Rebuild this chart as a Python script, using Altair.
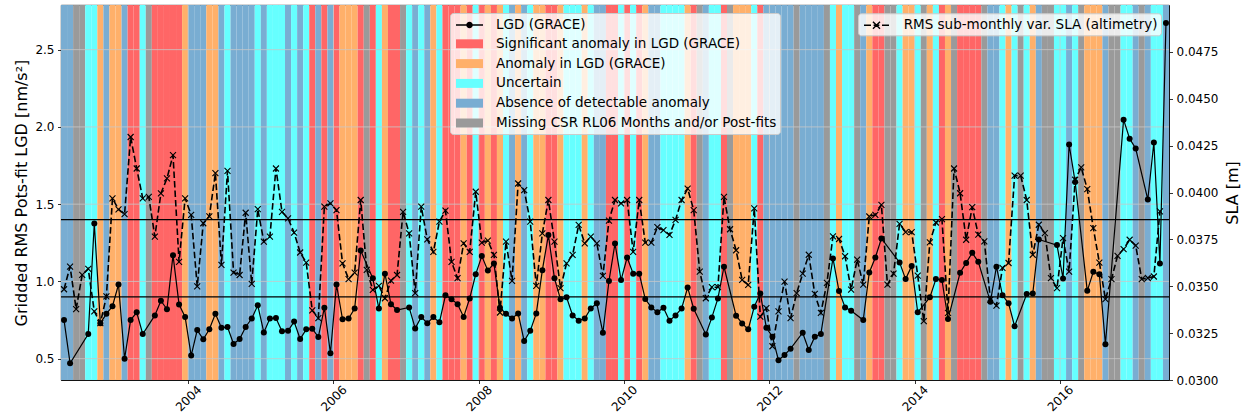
import altair as alt
import pandas as pd

# ---------------- data ----------------
START_YEAR = 2002
START_MONTH = 4  # first month: April 2002, one band per month

# S significant, A anomaly, U uncertain, N absence, M missing
MONTH_CODES = ("NNMMUUANAA" "NSSUMSSSSS" "ANNNAANUNN" "NNUNUUUNUN" "USNSNSAAAS"
               "MSUASSMUNU" "NAUSSSASUS" "ASAUNANUAA" "SSAUUUAUNN" "SSUSUSANNU"
               "UUUASMNUUS" "MAAAUSNNNN" "NMNNNNMUAU" "UMNASSMMUA" "AUMAUSAMSS"
               "SSMNNUAUMU" "ANMMUUNUMA" "AANMMUUNMN" "UUN")

LGD = [0.75, 0.47, None, None, 0.66, 1.375, 0.73, 0.79, 0.84, 0.98,
       0.50, 0.75, 0.80, 0.66, None, 0.78, 0.875, 0.82, 1.17, 0.85,
       0.77, 0.52, 0.685, 0.625, 0.69, 0.79, 0.70, 0.705, 0.595, 0.627,
       0.705, 0.76, 0.845, 0.67, 0.76, 0.763, 0.677, 0.68, 0.74, 0.627,
       0.69, 0.694, 0.64, 0.83, 0.535, 0.98, 0.755, 0.76, 0.825, 1.20,
       None, 1.02, 0.825, 1.05, 0.853, 0.815, None, 0.832, 0.696, 0.77,
       0.73, 0.77, 0.735, 0.91, 0.884, 0.853, 0.77, 0.89, 1.047, 1.164,
       1.07, 1.116, 0.83, 0.79, 0.76, 0.793, 0.614, 0.68, 0.793, 1.073,
       1.30, 1.02, 0.884, 0.897, 0.78, 0.746, 0.76, 0.825, 0.858, 0.668,
       1.002, 1.246, 1.009, 1.155, 1.05, 1.05, 0.886, 0.832, 0.80, 0.83,
       0.746, 0.78, 0.825, 0.96, 0.823, None, 0.657, 0.767, 0.89, 1.095,
       None, 0.778, 0.728, 0.69, 0.836, 0.922, 0.70, 0.642, 0.49, 0.524,
       0.565, None, 0.668, 0.556, 0.642, 0.66, None, 1.149, 0.9375, 0.832,
       0.81, None, 0.75, 1.058, 1.155, 1.278, None, None, 1.123, 1.015,
       1.10, 0.80, None, 0.897, 1.015, 1.009, 0.756, None, 1.056, 1.12,
       1.185, 1.127, None, 0.868, 1.095, 0.91, 0.858, 0.71, None, 0.918,
       0.922, 1.271, None, None, 1.235, 1.019, 1.886, 1.644, None, 0.939,
       1.062, 1.047, 0.593, None, None, 2.047, 1.924, 1.86, None, 1.53,
       1.899, 1.116, 2.672]

SLA = [0.03484, 0.03605, 0.03378, 0.03561, 0.03593, 0.03366, 0.03303, 0.03446, 0.03969, 0.0391,
       0.03885, 0.04296, 0.04128, 0.03969, 0.03977, 0.03765, 0.03995, 0.04075, 0.04199, 0.0363,
       0.03969, 0.03881, 0.03499, 0.03836, 0.03873, 0.04103, 0.03614, 0.04115, 0.03573, 0.0356,
       0.03892, 0.03513, 0.03911, 0.03738, 0.03765, 0.04128, 0.03897, 0.03862, 0.03786, 0.0368,
       0.03626, 0.03371, 0.0333, 0.03925, 0.03942, 0.03906, 0.03622, 0.03538, 0.03573, 0.0396,
       0.03587, 0.03481, 0.03502, 0.03436, 0.0353, 0.0356, 0.03897, 0.03782, 0.03463, 0.03925,
       0.0375, 0.03683, 0.03845, 0.03903, 0.0363, 0.03543, 0.03729, 0.03683, 0.04004, 0.03733,
       0.03743, 0.03667, 0.0336, 0.03738, 0.03529, 0.04048, 0.04013, 0.03845, 0.03502, 0.03782,
       0.0396, 0.03738, 0.0349, 0.03622, 0.03667, 0.03827, 0.03729, 0.03765, 0.03729, 0.03555,
       0.0385, 0.0396, 0.03942, 0.0396, 0.03683, 0.0396, 0.03733, 0.03733, 0.03815, 0.03799,
       0.03774, 0.03854, 0.0396, 0.04021, 0.03906, 0.03578, 0.03436, 0.03495, 0.03495, 0.03977,
       0.03804, 0.03692, 0.03534, 0.03507, 0.03915, 0.03338, 0.03383, 0.0318, 0.03366, 0.03525,
       0.0333, 0.03463, 0.03567, 0.03668, 0.03459, 0.03358, 0.03518, 0.03766, 0.03752, 0.0366,
       0.03482, 0.03642, 0.03509, 0.03872, 0.03881, 0.03934, 0.03509, 0.03567, 0.03833, 0.03789,
       0.03789, 0.03557, 0.03314, 0.03734, 0.0384, 0.03858, 0.03358, 0.04128, 0.03996, 0.03748,
       0.03922, 0.03775, 0.03739, 0.03429, 0.03397, 0.03598, 0.03624, 0.0409, 0.0409, 0.0396,
       0.03668, 0.03828, 0.03783, 0.03543, 0.0349, 0.03757, 0.03578, 0.04068, 0.04134, 0.04018,
       0.0381, 0.03626, 0.03431, 0.03538, 0.03662, 0.03698, 0.03748, 0.03717, 0.03538, 0.03544,
       0.03552, 0.03899, None]

THRESHOLDS = [1.4, 0.9]
X_TICKS = [2004, 2006, 2008, 2010, 2012, 2014, 2016]
YL_TICKS = [0.5, 1.0, 1.5, 2.0, 2.5]
YR_TICKS = [0.0300, 0.0325, 0.0350, 0.0375, 0.0400, 0.0425, 0.0450, 0.0475]

LGD_LABEL = "LGD (GRACE)"
SLA_LABEL = "RMS sub-monthly var. SLA (altimetry)"
CODE_LABELS = {
    "S": "Significant anomaly in LGD (GRACE)",
    "A": "Anomaly in LGD (GRACE)",
    "U": "Uncertain",
    "N": "Absence of detectable anomaly",
    "M": "Missing CSR RL06 Months and/or Post-fits",
}
LEGEND_LABELS = [LGD_LABEL] + list(CODE_LABELS.values())
LEGEND_COLORS = ["#000000", "#FF6666", "#FFB06A", "#66FFFF", "#79ADD2", "#9A9A9A"]

# ---------------- tables ----------------
t0 = START_YEAR + (START_MONTH - 1) / 12
band_df = pd.DataFrame({
    "x0": [t0 + i / 12 for i in range(len(MONTH_CODES))],
    "x1": [t0 + (i + 1) / 12 for i in range(len(MONTH_CODES))],
    "label": [CODE_LABELS[c] for c in MONTH_CODES],
})
lgd_df = pd.DataFrame({"t": [t0 + (i + 0.5) / 12 for i, v in enumerate(LGD) if v is not None],
                       "lgd": [v for v in LGD if v is not None]})
sla_df = pd.DataFrame({"t": [t0 + (i + 0.5) / 12 for i, v in enumerate(SLA) if v is not None],
                       "sla": [v for v in SLA if v is not None]})
empty_df = pd.DataFrame({"label": pd.Series([], dtype=str)})

# ---------------- scales & axes ----------------
xscale = alt.Scale(domain=[t0, t0 + len(MONTH_CODES) / 12], nice=False, zero=False)
xaxis = alt.Axis(values=X_TICKS, format="d", labelAngle=315, labelAlign="center",
                 labelBaseline="middle", labelPadding=14.5, title=None, grid=False)
yl_scale = alt.Scale(domain=[0.362, 2.789], nice=False, zero=False)
yl_axis = alt.Axis(values=YL_TICKS, format=".1f", orient="left", grid=False,
                   title="Gridded RMS Pots-fit LGD [nm/s²]", titleX=-40,
                   titleBaseline="middle", titleAngle=270)
yr_scale = alt.Scale(domain=[0.0300, 0.0500], nice=False, zero=False)
yr_axis = alt.Axis(values=YR_TICKS, format=".4f", orient="right", grid=False,
                   title="SLA [m]", titleX=63, titleBaseline="middle", titleAngle=270)

GRID = "#c8c8c8"

# legend symbol shapes (units of half the symbol size)
RECT_PATH = "M-0.75,-0.56H2.625V0.56H-0.75Z"
LINE_DOT_PATH = ("M-0.75,-0.09H2.625V0.09H-0.75Z"
                 "M0.53,0A0.41,0.41,0,1,1,1.35,0A0.41,0.41,0,1,1,0.53,0Z")
X_MARK = "M-1,-1L1,1M-1,1L1,-1"
DASH_X_PATH = ("M-0.75,0H0.125M0.45,0H1.17M1.5,0H2.375"
               "M0.37,-0.44L1.25,0.44M0.37,0.44L1.25,-0.44")

legend1 = alt.Legend(
    title=None, orient="none", legendX=389, legendY=8, direction="vertical",
    symbolSize=256, symbolOpacity=1, padding=3, rowPadding=2.8, labelOffset=25,
    labelFontSize=13.5, labelLimit=600, fillColor="rgba(255,255,255,0.8)",
    strokeColor="#cccccc", cornerRadius=3,
)
legend2 = alt.Legend(
    title=None, orient="none", legendX=797, legendY=8.3, direction="vertical",
    symbolSize=256, symbolOpacity=1, symbolStrokeWidth=1.4, symbolStrokeColor="black",
    padding=3, labelOffset=24.7, labelFontSize=13.5, labelLimit=600,
    fillColor="rgba(255,255,255,0.8)", strokeColor="#cccccc", cornerRadius=3,
)

color_enc = alt.Color("label:N", scale=alt.Scale(domain=LEGEND_LABELS, range=LEGEND_COLORS),
                      legend=legend1)

# ---------------- layers ----------------
bands = alt.Chart(band_df).mark_rect(strokeWidth=0).encode(
    x=alt.X("x0:Q", scale=xscale, axis=xaxis),
    x2="x1:Q",
    color=color_enc,
)
legend_keys = alt.Chart(empty_df).mark_point(filled=True).encode(
    color=color_enc,
    shape=alt.Shape("label:N", scale=alt.Scale(domain=LEGEND_LABELS,
                                               range=[LINE_DOT_PATH] + [RECT_PATH] * 5),
                    legend=legend1),
)
vgrid = alt.Chart(pd.DataFrame({"yr": X_TICKS})).mark_rule(color=GRID, strokeWidth=0.8).encode(
    x=alt.X("yr:Q", scale=xscale, axis=xaxis))
hgrid = alt.Chart(pd.DataFrame({"v": YL_TICKS})).mark_rule(color=GRID, strokeWidth=0.8).encode(
    y=alt.Y("v:Q", scale=yl_scale, axis=yl_axis))
hlines = alt.Chart(pd.DataFrame({"v": THRESHOLDS})).mark_rule(color="black", strokeWidth=1.3).encode(
    y=alt.Y("v:Q", scale=yl_scale, axis=yl_axis))
lgd_line = alt.Chart(lgd_df).mark_line(color="black", strokeWidth=1.2).encode(
    x=alt.X("t:Q", scale=xscale, axis=xaxis),
    y=alt.Y("lgd:Q", scale=yl_scale, axis=yl_axis))
lgd_pts = alt.Chart(lgd_df).mark_circle(color="black", size=36, opacity=1).encode(
    x=alt.X("t:Q", scale=xscale, axis=xaxis),
    y=alt.Y("lgd:Q", scale=yl_scale, axis=yl_axis))

sla_line = alt.Chart(sla_df).mark_line(color="black", strokeWidth=1.6, strokeDash=[6.5, 3]).encode(
    x=alt.X("t:Q", scale=xscale, axis=xaxis),
    y=alt.Y("sla:Q", scale=yr_scale, axis=yr_axis))
sla_pts = alt.Chart(sla_df).mark_point(filled=False, color="black", strokeWidth=1.1,
                                       size=36, opacity=1, shape=X_MARK).encode(
    x=alt.X("t:Q", scale=xscale, axis=xaxis),
    y=alt.Y("sla:Q", scale=yr_scale, axis=yr_axis))
sla_key = alt.Chart(pd.DataFrame({"series": pd.Series([], dtype=str)})).mark_point(
    filled=False, color="black", strokeWidth=1.4).encode(
    shape=alt.Shape("series:N", scale=alt.Scale(domain=[SLA_LABEL], range=[DASH_X_PATH]),
                    legend=legend2),
)

left = alt.layer(bands, legend_keys, vgrid, hgrid, hlines, lgd_line, lgd_pts)
right = alt.layer(sla_line, sla_pts, sla_key)

chart = alt.layer(left, right).resolve_scale(
    y="independent", shape="independent", color="independent"
).properties(
    width=1108, height=375,
    padding={"left": 61, "top": 5, "right": 75, "bottom": 37},
    autosize=alt.AutoSizeParams(type="none"),
    background="white",
).configure(font="DejaVu Sans").configure_axis(
    labelFont="DejaVu Sans", titleFont="DejaVu Sans", labelFontSize=12, titleFontSize=16,
    titleFontWeight="normal", labelColor="black", titleColor="black",
    domainColor="black", tickColor="black", domainWidth=0.8, tickWidth=0.8, tickSize=3.5,
    labelPadding=3.5,
).configure_legend(labelFont="DejaVu Sans", labelColor="black").configure_view(
    stroke="black", strokeWidth=0.8)

chart.save("out.html", embed_options={"renderer": "svg", "actions": False})
